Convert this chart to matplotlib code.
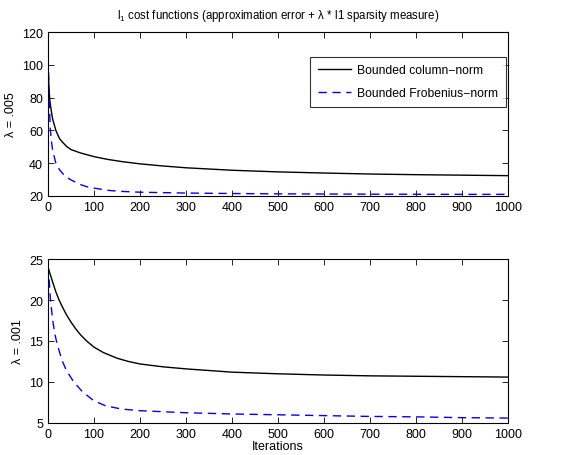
import matplotlib
matplotlib.use("Agg")
import matplotlib.pyplot as plt

plt.rcParams['font.family'] = ['Liberation Sans', 'DejaVu Sans']
plt.rcParams['mathtext.fontset'] = 'custom'
plt.rcParams['mathtext.rm'] = 'Liberation Sans'
plt.rcParams['mathtext.it'] = 'Liberation Sans'

# Top panel (lambda = .005)
top_col_x = [0, 2, 4, 7, 10, 17, 25, 30, 40, 45, 50, 70, 100, 130, 160, 200, 250, 300, 400, 500, 600, 700, 800, 900, 1000]
top_col_y = [101, 86, 78, 72, 67, 60, 55, 53.3, 50.3, 49.3, 48.3, 46.3, 44.0, 42.3, 41.0, 39.6, 38.3, 37.2, 35.7, 34.7, 34.0, 33.4, 33.0, 32.7, 32.4]
top_fro_x = [0, 2, 4, 5, 7, 10, 17, 25, 37, 50, 70, 85, 100, 132, 160, 200, 300, 400, 500, 600, 700, 800, 900, 1000]
top_fro_y = [104, 85, 68, 61, 54, 48, 40, 36, 32, 29.8, 27.0, 25.6, 24.8, 23.4, 22.8, 22.3, 21.8, 21.5, 21.3, 21.2, 21.1, 21.05, 21.0, 21.0]

# Bottom panel (lambda = .001)
bot_col_x = [0, 5, 10, 17, 24, 30, 40, 50, 60, 70, 84, 100, 120, 150, 175, 200, 250, 300, 400, 500, 600, 700, 800, 900, 1000]
bot_col_y = [24.0, 23.1, 22.2, 21.0, 20.0, 19.3, 18.2, 17.3, 16.5, 15.8, 15.0, 14.25, 13.6, 12.9, 12.5, 12.2, 11.85, 11.6, 11.2, 11.0, 10.85, 10.75, 10.7, 10.65, 10.6]
bot_fro_x = [0, 3, 5, 10, 15, 20, 30, 40, 56, 75, 100, 125, 160, 200, 300, 400, 500, 600, 700, 800, 900, 1000]
bot_fro_y = [24.2, 22.0, 20.2, 17.6, 15.8, 14.6, 12.7, 11.4, 10.0, 8.8, 7.7, 7.1, 6.7, 6.5, 6.25, 6.1, 6.0, 5.9, 5.8, 5.75, 5.65, 5.6]

x_ticks = list(range(0, 1001, 100))
top_yticks = [20, 40, 60, 80, 100, 120]
bot_yticks = [5, 10, 15, 20, 25]

fig = plt.figure(figsize=(5.63, 4.56), dpi=100)
ax1 = fig.add_axes([0.0853, 0.568, 0.817, 0.3596])
ax2 = fig.add_axes([0.0853, 0.0702, 0.817, 0.3596])

fs = 9
for ax in (ax1, ax2):
    ax.tick_params(direction="in", top=True, right=True, labelsize=fs, length=4, width=0.6)
    for s in ax.spines.values():
        s.set_linewidth(0.8)
    ax.set_xlim(0, 1000)
    ax.set_xticks(x_ticks)

ax1.plot(top_col_x, top_col_y, color="black", lw=1.0, label="Bounded column\u2212norm")
ax1.plot(top_fro_x, top_fro_y, color="blue", lw=1.0, ls=(0, (6, 4)), label="Bounded Frobenius\u2212norm")
ax1.set_ylim(20, 120)
ax1.set_yticks(top_yticks)
ax1.set_ylabel("\u03bb = .005", fontsize=fs)
ax1.set_title(r"l$_1$ cost functions (approximation error + " + "\u03bb * l1 sparsity measure)", fontsize=8.3, pad=10)
leg = ax1.legend(loc="upper right", bbox_to_anchor=(0.995, 0.85), fontsize=8.7, frameon=True, fancybox=False,
                 edgecolor="black", handlelength=2.8, handletextpad=0.45, borderpad=0.65, labelspacing=0.85,
                 borderaxespad=0.0)
leg.get_frame().set_linewidth(0.8)

ax2.plot(bot_col_x, bot_col_y, color="black", lw=1.0)
ax2.plot(bot_fro_x, bot_fro_y, color="blue", lw=1.0, ls=(0, (6, 4)))
ax2.set_ylim(5, 25)
ax2.set_yticks(bot_yticks)
ax2.set_ylabel("\u03bb = .001", fontsize=fs)
ax2.set_xlabel("Iterations", fontsize=fs, labelpad=0)

fig.savefig("out.png", dpi=100)
